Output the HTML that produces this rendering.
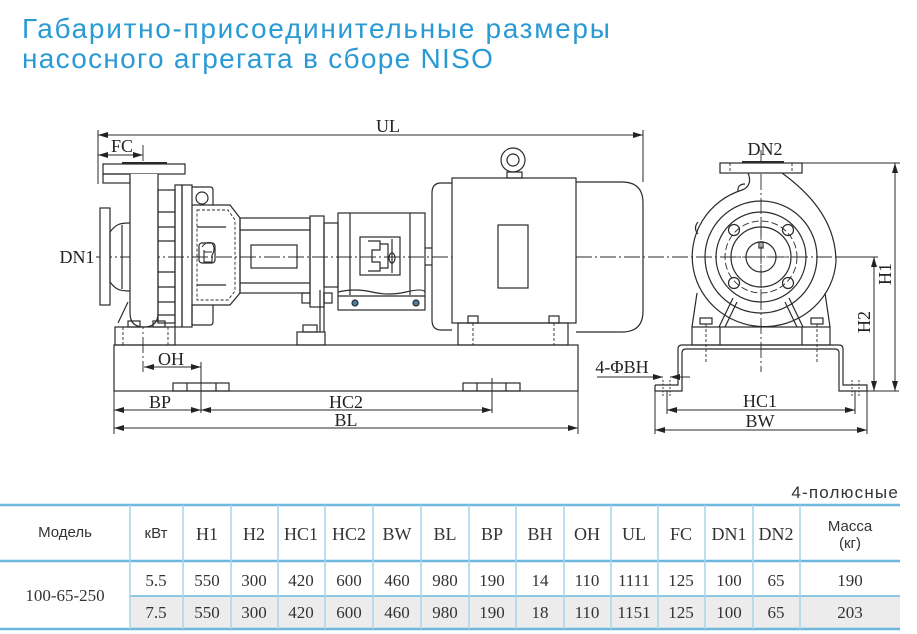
<!DOCTYPE html>
<html><head><meta charset="utf-8"><style>
html,body{margin:0;padding:0;background:#fff;}
body{width:917px;height:634px;overflow:hidden;}
svg{display:block;}
.t{font-family:"Liberation Sans",sans-serif;}
.s{font-family:"Liberation Serif",serif;}
</style></head><body>
<svg width="917" height="634" viewBox="0 0 917 634" xmlns="http://www.w3.org/2000/svg">
<defs>
<marker id="a" markerWidth="10" markerHeight="6" refX="10" refY="3" orient="auto-start-reverse" markerUnits="userSpaceOnUse"><path d="M0,0 L10,3 L0,6 z" fill="#222"/></marker>
</defs>
<!-- Title -->
<text class="t" x="22" y="38" font-size="28" fill="#2a9ad4" letter-spacing="1.7">Габаритно-присоединительные размеры</text>
<text class="t" x="22" y="68" font-size="28" fill="#2a9ad4" letter-spacing="1.3">насосного агрегата в сборе NISO</text>

<g stroke="#2a2a2a" stroke-width="1.2" fill="none">
<!-- center lines -->
<line x1="96" y1="257" x2="860" y2="257" stroke-dasharray="16 3 2 3" stroke-width="0.9"/>
<line x1="143" y1="145" x2="143" y2="372" stroke-dasharray="16 3 2 3" stroke-width="0.9"/>
<line x1="761" y1="150" x2="761" y2="372" stroke-dasharray="16 3 2 3" stroke-width="0.9"/>

<!-- UL -->
<line x1="98" y1="135" x2="643" y2="135" marker-start="url(#a)" marker-end="url(#a)" stroke-width="1"/>
<line x1="98" y1="130" x2="98" y2="184" stroke-width="1"/>
<line x1="643" y1="130" x2="643" y2="182" stroke-width="1"/>
<!-- FC -->
<line x1="98" y1="155" x2="143" y2="155" marker-start="url(#a)" marker-end="url(#a)" stroke-width="1"/>

<!-- pump side view -->
<rect x="103" y="164" width="82" height="10" fill="#fff"/>
<line x1="122" y1="163" x2="167" y2="163" stroke-width="2"/>
<rect x="103" y="174" width="27" height="9"/>
<path d="M130,174 V313 Q130,327 144,327 Q158,327 158,313 V174" fill="#fff"/>
<rect x="100" y="208" width="10" height="97" fill="#fff"/>
<path d="M110,232 C116,224 120,223 130,223 M110,282 C116,290 120,291 130,291"/>
<line x1="110" y1="232" x2="110" y2="282"/>
<line x1="122" y1="225" x2="122" y2="289"/>
<rect x="158" y="190" width="17" height="133"/>
<path d="M158,212 H175 M158,227 H175 M158,241 H175 M158,272 H175 M158,287 H175 M158,302 H175 M158,315 H175"/>
<rect x="175" y="185" width="7" height="142"/>
<rect x="182" y="185" width="10" height="142"/>
<path d="M128,302 L118,323"/>
<!-- top lump -->
<path d="M192,187 H210 Q213,187 213,190 V205"/>
<circle cx="202" cy="198" r="6"/>
<!-- bracket -->
<path d="M192,205 H230 L240,218 V293 L230,305 H192"/>
<path d="M197,210 H228 L235,220 V291 L228,300 H197 Z" stroke-dasharray="3 2" stroke-width="0.9"/>
<path d="M197,227 H226 M197,285 H226"/>
<path d="M202,247 Q206,241 212,243 Q216,249 212,255 V262 H204 V250 M204,252 H212" stroke-width="1.1"/>
<rect x="199" y="243" width="16" height="20" rx="3"/>
<path d="M192,305 V325 H210 Q213,325 213,322 V305"/>
<!-- shaft tube -->
<rect x="240" y="218" width="70" height="75"/>
<line x1="240" y1="230" x2="310" y2="230"/>
<line x1="240" y1="283" x2="310" y2="283"/>
<rect x="251" y="245" width="46" height="23"/>
<rect x="310" y="216" width="14" height="91"/>
<rect x="324" y="223" width="14" height="64"/>
<path d="M320,290 V332 M324,292 V332"/>
<rect x="302" y="293" width="8" height="10"/>
<rect x="324" y="293" width="8" height="10"/>
<rect x="297" y="332" width="28" height="13"/>
<rect x="303" y="325" width="14" height="7"/>
<!-- pump foot -->
<rect x="115" y="327" width="60" height="18"/>
<rect x="128" y="321" width="12" height="6"/>
<rect x="153" y="321" width="12" height="6"/>
<!-- coupling guard -->
<rect x="338" y="213" width="87" height="97"/>
<path d="M350,213 V295 M410,213 V295"/>
<path d="M338,292 Q355,288 372,292 T406,292 T425,292"/>
<line x1="338" y1="296" x2="425" y2="296"/>
<rect x="360" y="237" width="40" height="38"/>
<path d="M368,241 H380 V250 H372 V262 H380 V271 H368 M380,244 H388 V268 H380 M392,239 V273"/>
<line x1="425" y1="248" x2="432" y2="248"/>
<line x1="425" y1="265" x2="432" y2="265"/>
<circle cx="355" cy="303" r="3" fill="#4a7fa0"/>
<circle cx="416" cy="303" r="3" fill="#4a7fa0"/>
<ellipse cx="392" cy="258" rx="3" ry="5"/>
<!-- motor -->
<path d="M452,183 H441 Q432,183 432,193 V320 Q432,330 441,330 H452"/>
<rect x="452" y="178" width="124" height="145" fill="#fff"/>
<rect x="498" y="225" width="30" height="63"/>
<circle cx="513" cy="160" r="12" fill="#fff"/>
<circle cx="513" cy="160" r="6"/>
<rect x="507" y="172" width="15" height="6"/>
<path d="M576,182 H622 Q643,182 643,203 V311 Q643,332 622,332 H576"/>
<rect x="458" y="323" width="110" height="22"/>
<rect x="468" y="316" width="10" height="7"/>
<rect x="549" y="316" width="10" height="7"/>
<path d="M473,323 V345 M554,323 V345" stroke-dasharray="3 2" stroke-width="0.9"/>
<!-- base -->
<rect x="114" y="345" width="464" height="46"/>
<path d="M123,327 V345 M168,327 V345" stroke-dasharray="3 2" stroke-width="0.9"/>
<rect x="173" y="383" width="56" height="8"/>
<path d="M187,383 V391 M216,383 V391"/>
<rect x="463" y="383" width="57" height="8"/>
<path d="M477,383 V391 M506,383 V391"/>
<path d="M492,378 V413" stroke-width="1"/>
<!-- dims bottom -->
<line x1="144" y1="367" x2="201" y2="367" marker-start="url(#a)" marker-end="url(#a)" stroke-width="1"/>
<line x1="201" y1="362" x2="201" y2="413" stroke-width="1"/>
<line x1="114" y1="410" x2="201" y2="410" marker-start="url(#a)" marker-end="url(#a)" stroke-width="1"/>
<line x1="201" y1="410" x2="492" y2="410" marker-start="url(#a)" marker-end="url(#a)" stroke-width="1"/>
<line x1="114" y1="428" x2="578" y2="428" marker-start="url(#a)" marker-end="url(#a)" stroke-width="1"/>
<line x1="114" y1="391" x2="114" y2="434" stroke-width="1"/>
<line x1="578" y1="391" x2="578" y2="434" stroke-width="1"/>

<!-- END VIEW -->
<rect x="720" y="163" width="82" height="10" fill="#fff"/>
<line x1="742" y1="162" x2="784" y2="162" stroke-width="2"/>
<path d="M730,163 V173 M792,163 V173" stroke-dasharray="3 2" stroke-width="0.9"/>
<path d="M748,173 C752,182 748,188 742,190"/>
<path d="M742,190 A72,70 0 1,0 836,262 C836,220 808,192 782,173"/>
<path d="M738,192 Q737,184 745,184" />
<path d="M698,234 Q693,228 698,222"/>
<circle cx="761" cy="257" r="56"/>
<circle cx="761" cy="257" r="45"/>
<circle cx="761" cy="257" r="36" stroke-dasharray="7 3" stroke-width="0.9"/>
<circle cx="761" cy="257" r="30"/>
<circle cx="761" cy="257" r="15"/>
<rect x="759" y="242" width="4" height="6"/>
<circle cx="734" cy="230" r="5.5"/><circle cx="788" cy="230" r="5.5"/>
<circle cx="734" cy="283" r="5.5"/><circle cx="788" cy="283" r="5.5"/>
<path d="M722,257 H800 M761,218 V296" stroke-width="0.8" stroke-dasharray="6 2 2 2"/>
<path d="M733,298 L719,327 M737,302 L725,327 M789,298 L803,327 M785,302 L797,327"/>
<path d="M697,293 L692,327 M825,293 L830,327"/>
<rect x="692" y="327" width="138" height="18"/>
<path d="M720,327 V345 M802,327 V345"/>
<rect x="700" y="318" width="12" height="6"/>
<rect x="811" y="318" width="12" height="6"/>
<path d="M706,324 V362 M817,324 V362" stroke-dasharray="3 2" stroke-width="0.9"/>
<!-- channel base -->
<path d="M655,385 H678 V349 Q678,345 682,345 H839 Q843,345 843,349 V385 H867 V391 M655,385 V391 H682 V353 Q682,349 686,349 H835 Q839,349 839,353 V391 H867"/>
<path d="M663,380 V396 M670,380 V396 M852,380 V396 M859,380 V396" stroke-dasharray="2 1.5" stroke-width="0.9"/>
<!-- 4-ΦBH -->
<line x1="597" y1="377" x2="663" y2="377" marker-end="url(#a)" stroke-width="1"/>
<line x1="690" y1="377" x2="670" y2="377" marker-end="url(#a)" stroke-width="1"/>
<!-- HC1, BW -->
<line x1="667" y1="410" x2="855" y2="410" marker-start="url(#a)" marker-end="url(#a)" stroke-width="1"/>
<line x1="655" y1="430" x2="867" y2="430" marker-start="url(#a)" marker-end="url(#a)" stroke-width="1"/>
<path d="M667,391 V414 M855,391 V414 M655,391 V434 M867,391 V434" stroke-width="1"/>
<!-- H1, H2 -->
<line x1="802" y1="163" x2="900" y2="163" stroke-width="1"/>
<line x1="895" y1="163" x2="895" y2="391" marker-start="url(#a)" marker-end="url(#a)" stroke-width="1"/>
<line x1="867" y1="391" x2="899" y2="391" stroke-width="1"/>
<line x1="837" y1="257" x2="878" y2="257" stroke-width="1"/>
<line x1="874" y1="257" x2="874" y2="391" marker-start="url(#a)" marker-end="url(#a)" stroke-width="1"/>
</g>

<!-- drawing labels -->
<g class="s" font-size="18" fill="#222" text-anchor="middle">
<text x="388" y="132">UL</text>
<text x="122" y="152">FC</text>
<text x="77" y="263">DN1</text>
<text x="171" y="365">OH</text>
<text x="160" y="408">BP</text>
<text x="346" y="408">HC2</text>
<text x="346" y="426">BL</text>
<text x="765" y="155">DN2</text>
<text x="622" y="373">4-ΦBH</text>
<text x="760" y="407">HC1</text>
<text x="760" y="427">BW</text>
<text transform="translate(891,274) rotate(-90)">H1</text>
<text transform="translate(870,322) rotate(-90)">H2</text>
</g>

<!-- TABLE -->
<text class="t" x="899" y="498" font-size="17" fill="#333" text-anchor="end" letter-spacing="1.2">4-полюсные</text>
<rect x="130" y="596" width="770" height="33" fill="#ececec"/>
<g stroke="#6db8dc" fill="none">
<line x1="0" y1="505" x2="900" y2="505" stroke-width="2.5"/>
<line x1="0" y1="561" x2="900" y2="561" stroke-width="2.5"/>
<line x1="130" y1="596" x2="900" y2="596" stroke-width="1.5"/>
<line x1="0" y1="629" x2="900" y2="629" stroke-width="2.5"/>
</g>
<g stroke="#a6d4ea" stroke-width="1.5">
<line x1="130" y1="505" x2="130" y2="629"/><line x1="183" y1="505" x2="183" y2="629"/>
<line x1="231" y1="505" x2="231" y2="629"/><line x1="278" y1="505" x2="278" y2="629"/>
<line x1="325" y1="505" x2="325" y2="629"/><line x1="373" y1="505" x2="373" y2="629"/>
<line x1="421" y1="505" x2="421" y2="629"/><line x1="469" y1="505" x2="469" y2="629"/>
<line x1="516" y1="505" x2="516" y2="629"/><line x1="564" y1="505" x2="564" y2="629"/>
<line x1="611" y1="505" x2="611" y2="629"/><line x1="658" y1="505" x2="658" y2="629"/>
<line x1="705" y1="505" x2="705" y2="629"/><line x1="753" y1="505" x2="753" y2="629"/>
<line x1="800" y1="505" x2="800" y2="629"/>
</g>
<g class="t" font-size="15" fill="#333" text-anchor="middle">
<text x="65" y="537">Модель</text>
<text x="156" y="538">кВт</text>
<text x="850" y="531">Масса</text>
<text x="850" y="548">(кг)</text>
</g>
<g class="s" font-size="18" fill="#333" text-anchor="middle">
<text x="207" y="540">H1</text><text x="254" y="540">H2</text><text x="301" y="540">HC1</text>
<text x="349" y="540">HC2</text><text x="397" y="540">BW</text><text x="445" y="540">BL</text>
<text x="492" y="540">BP</text><text x="540" y="540">BH</text><text x="587" y="540">OH</text>
<text x="634" y="540">UL</text><text x="681" y="540">FC</text><text x="729" y="540">DN1</text>
<text x="776" y="540">DN2</text>
</g>
<g class="s" font-size="17" fill="#333" text-anchor="middle">
<text x="65" y="601">100-65-250</text>
<text x="156" y="586">5.5</text><text x="207" y="586">550</text><text x="254" y="586">300</text>
<text x="301" y="586">420</text><text x="349" y="586">600</text><text x="397" y="586">460</text>
<text x="445" y="586">980</text><text x="492" y="586">190</text><text x="540" y="586">14</text>
<text x="587" y="586">110</text><text x="634" y="586">1111</text><text x="681" y="586">125</text>
<text x="729" y="586">100</text><text x="776" y="586">65</text><text x="850" y="586">190</text>
<text x="156" y="618">7.5</text><text x="207" y="618">550</text><text x="254" y="618">300</text>
<text x="301" y="618">420</text><text x="349" y="618">600</text><text x="397" y="618">460</text>
<text x="445" y="618">980</text><text x="492" y="618">190</text><text x="540" y="618">18</text>
<text x="587" y="618">110</text><text x="634" y="618">1151</text><text x="681" y="618">125</text>
<text x="729" y="618">100</text><text x="776" y="618">65</text><text x="850" y="618">203</text>
</g>
</svg>
</body></html>
